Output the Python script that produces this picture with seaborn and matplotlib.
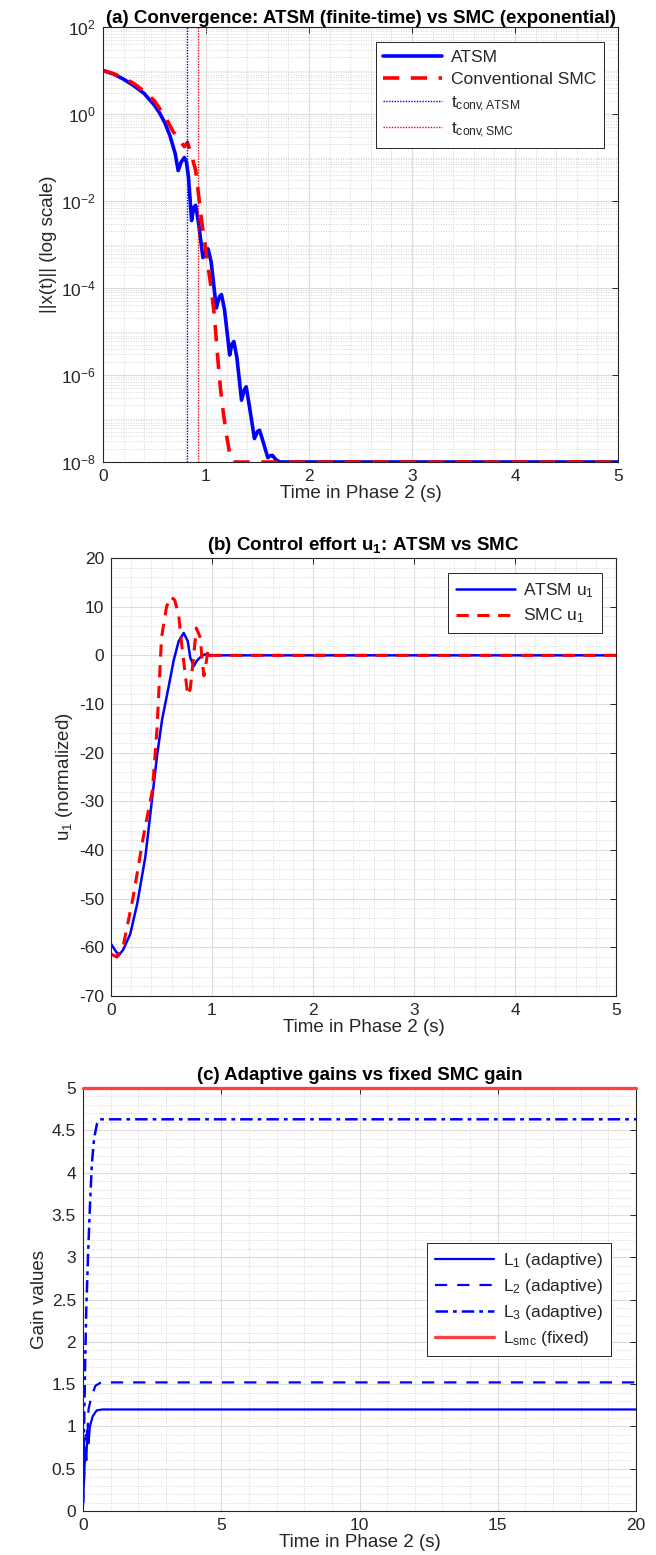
import numpy as np
import pandas as pd
import matplotlib
matplotlib.use("Agg")
import matplotlib.pyplot as plt
import seaborn as sns
from matplotlib.ticker import LogLocator, MultipleLocator, NullFormatter, FuncFormatter

# ---------------- data ----------------
# (a) state norm, log10 values
t_atsm = [0, 0.1, 0.2, 0.3, 0.4, 0.5, 0.55, 0.6, 0.65, 0.7, 0.73, 0.76, 0.79, 0.81, 0.83,
          0.86, 0.88, 0.9, 0.93, 0.97, 1.0, 1.02, 1.05, 1.1, 1.13, 1.15, 1.18, 1.23, 1.25,
          1.27, 1.3, 1.345, 1.37, 1.39, 1.42, 1.47, 1.5, 1.52, 1.55, 1.6, 1.63, 1.645, 1.68,
          1.72, 5.0]
atsm_norm_log10 = [1.0, 0.92, 0.8, 0.65, 0.47, 0.2, 0.02, -0.2, -0.5, -0.9, -1.3, -1.1, -1.0,
                   -1.1, -1.45, -2.45, -2.15, -2.1, -2.55, -3.3, -3.15, -3.1, -3.4, -4.46,
                   -4.2, -4.15, -4.5, -5.54, -5.3, -5.23, -5.6, -6.58, -6.35, -6.27, -6.7,
                   -7.46, -7.3, -7.27, -7.5, -7.9, -7.85, -7.85, -7.95, -8.0, -8.0]
t_smc = [0, 0.1, 0.2, 0.3, 0.4, 0.5, 0.6, 0.68, 0.74, 0.79, 0.82, 0.86, 0.9, 0.93, 0.96, 0.99,
         1.02, 1.05, 1.08, 1.11, 1.14, 1.17, 1.2, 1.23, 1.26, 5.0]
smc_norm_log10 = [1.0, 0.93, 0.83, 0.7, 0.52, 0.3, -0.05, -0.4, -0.6, -0.75, -0.65, -0.95, -1.3,
                  -1.9, -2.5, -3.0, -3.5, -4.0, -4.6, -5.5, -6.3, -6.9, -7.4, -7.8, -8.0, -8.0]
t_conv_atsm = 0.82
t_conv_smc = 0.92

# (b) control effort u1
t_u_atsm = [0, 0.076, 0.12, 0.19, 0.26, 0.34, 0.39, 0.455, 0.505, 0.57, 0.62, 0.67, 0.72,
            0.76, 0.785, 0.82, 0.85, 0.9, 0.93, 1.0, 5.0]
u_atsm = [-59.3, -61.7, -60.5, -57.3, -51.0, -41.4, -32.5, -20.8, -13.3, -6.5, -1.1, 2.9, 4.6,
          2.9, -0.5, -2.2, -1.1, -0.1, 0.2, 0.0, 0.0]
t_u_smc = [0, 0.06, 0.125, 0.22, 0.32, 0.41, 0.455, 0.5, 0.55, 0.59, 0.63, 0.67, 0.70, 0.735,
           0.76, 0.785, 0.82, 0.845, 0.885, 0.9, 0.92, 0.945, 0.96, 0.98, 1.0, 5.0]
u_smc = [-61.4, -62.0, -59.3, -49.6, -37.3, -27.7, -15.3, 3.6, 10.0, 12.0, 11.4, 8.3, 2.2, -3.9,
         -8.2, -6.9, 0.2, 5.6, 3.6, -0.5, -4.2, -1.1, 1.2, -0.1, 0.0, 0.0]

# (c) gains
t_L1 = [0, 0.05, 0.08, 0.12, 0.16, 0.2, 0.25, 0.35, 0.5, 0.7, 20]
L1 = [0.1, 0.45, 0.75, 0.6, 0.95, 0.8, 1.0, 1.12, 1.19, 1.2, 1.2]
t_L2 = [0, 0.05, 0.1, 0.15, 0.2, 0.3, 0.45, 0.65, 20]
L2 = [0.05, 0.5, 0.9, 0.8, 1.2, 1.35, 1.48, 1.52, 1.52]
t_L3 = [0, 0.04, 0.08, 0.12, 0.18, 0.25, 0.32, 0.4, 0.5, 0.6, 20]
L3 = [0.1, 1.0, 1.8, 2.4, 3.0, 3.6, 4.1, 4.4, 4.57, 4.63, 4.63]
t_Lsmc = [0, 20]
L_smc = [5.0, 5.0]

# ---------------- style ----------------
sns.set_theme(style="white")
plt.rcParams["font.family"] = ["Liberation Sans", "DejaVu Sans"]
plt.rcParams["mathtext.fontset"] = "custom"
plt.rcParams["mathtext.rm"] = "Liberation Sans"
plt.rcParams["mathtext.it"] = "Liberation Sans:italic"
plt.rcParams["mathtext.bf"] = "Liberation Sans:bold"
plt.rcParams["axes.unicode_minus"] = False

AX_C = "#262626"
TICK_FS = 12.5
LAB_FS = 13.5
TITLE_FS = 13.5
LEG_FS = 12.5
BLUE = "#0000ff"
RED = "#ff0000"
LSMC_C = "#ff4040"

fig = plt.figure(figsize=(6.56, 15.55), dpi=100)
W, H = 656, 1555
gfmt = FuncFormatter(lambda v, p: "%g" % v)


def add_ax(x0, x1, y0, y1):
    return fig.add_axes([x0 / W, 1 - y1 / H, (x1 - x0) / W, (y1 - y0) / H])


def style(ax):
    for s in ax.spines.values():
        s.set_color(AX_C)
        s.set_linewidth(0.8)
    ax.tick_params(which="major", direction="in", length=4, width=0.7, top=True, right=True,
                   colors=AX_C, labelsize=TICK_FS, pad=5)
    ax.tick_params(which="minor", direction="in", length=0, top=True, right=True)
    ax.grid(True, which="major", color="#dcdcdc", lw=0.8, ls="-")
    ax.grid(True, which="minor", color="#c8c8c8", lw=0.6, ls=(0, (1, 2)))
    ax.set_axisbelow(True)


def leg(ax, **kw):
    lg = ax.legend(fontsize=LEG_FS, frameon=True, fancybox=False, framealpha=1,
                   edgecolor=AX_C, handlelength=3.4, borderpad=0.45, labelspacing=0.4,
                   handletextpad=0.5, **kw)
    lg.get_frame().set_linewidth(0.7)
    return lg


# ---------------- (a) ----------------
ax = add_ax(103, 618, 27, 462)
ax.set_yscale("log")
dfa = pd.DataFrame({"t": t_atsm, "v": 10.0 ** np.array(atsm_norm_log10)})
dfs = pd.DataFrame({"t": t_smc, "v": 10.0 ** np.array(smc_norm_log10)})
sns.lineplot(data=dfa, x="t", y="v", ax=ax, color=BLUE, lw=2.6, label="ATSM",
             sort=False, estimator=None)
sns.lineplot(data=dfs, x="t", y="v", ax=ax, color=RED, lw=2.6, label="Conventional SMC",
             sort=False, estimator=None)
ax.lines[-1].set_dashes((4.5, 3.2))
ax.axvline(t_conv_atsm, color=BLUE, lw=1.0, ls=(0, (1, 1)),
           label=r"$\mathrm{t_{conv\!,ATSM}}$")
ax.axvline(t_conv_smc, color=RED, lw=1.0, ls=(0, (1, 1)),
           label=r"$\mathrm{t_{conv\!,SMC}}$")
ax.set_xlim(0, 5)
ax.set_ylim(1e-8, 1e2)
ax.set_yticks([1e-8, 1e-6, 1e-4, 1e-2, 1e0, 1e2])
ax.yaxis.set_minor_locator(LogLocator(base=10, subs=np.arange(1, 10), numticks=100))
ax.yaxis.set_minor_formatter(NullFormatter())
ax.xaxis.set_major_locator(MultipleLocator(1))
ax.xaxis.set_minor_locator(MultipleLocator(0.2))
ax.xaxis.set_major_formatter(gfmt)
style(ax)
ax.set_title("(a) Convergence: ATSM (finite-time) vs SMC (exponential)", fontsize=TITLE_FS,
             fontweight="bold", pad=3, color="black")
ax.set_xlabel("Time in Phase 2 (s)", fontsize=LAB_FS, labelpad=1, color=AX_C)
ax.set_ylabel("||x(t)|| (log scale)", fontsize=LAB_FS, labelpad=3, color=AX_C)
leg(ax, loc="upper right", bbox_to_anchor=(0.99, 0.985))

# ---------------- (b) ----------------
ax = add_ax(111, 616, 558, 996)
sns.lineplot(x=t_u_atsm, y=u_atsm, ax=ax, color=BLUE, lw=1.8, label=r"ATSM u$_1$",
             sort=False, estimator=None)
sns.lineplot(x=t_u_smc, y=u_smc, ax=ax, color=RED, lw=2.2, label=r"SMC u$_1$",
             sort=False, estimator=None)
ax.lines[-1].set_dashes((4.0, 2.8))
ax.set_xlim(0, 5)
ax.set_ylim(-70, 20)
ax.xaxis.set_major_locator(MultipleLocator(1))
ax.xaxis.set_minor_locator(MultipleLocator(0.2))
ax.yaxis.set_major_locator(MultipleLocator(10))
ax.yaxis.set_minor_locator(MultipleLocator(2))
ax.xaxis.set_major_formatter(gfmt)
ax.yaxis.set_major_formatter(gfmt)
style(ax)
ax.set_title(r"(b) Control effort u$_\mathbf{1}$: ATSM vs SMC", fontsize=TITLE_FS,
             fontweight="bold", pad=6, color="black")
ax.set_xlabel("Time in Phase 2 (s)", fontsize=LAB_FS, labelpad=1, color=AX_C)
ax.set_ylabel(r"u$_1$ (normalized)", fontsize=LAB_FS, labelpad=3, color=AX_C)
leg(ax, loc="upper right", bbox_to_anchor=(0.99, 0.985))

# ---------------- (c) ----------------
ax = add_ax(83, 636, 1088, 1511)
sns.lineplot(x=t_L1, y=L1, ax=ax, color=BLUE, lw=1.6, label=r"L$_1$ (adaptive)",
             sort=False, estimator=None)
sns.lineplot(x=t_L2, y=L2, ax=ax, color=BLUE, lw=1.6, label=r"L$_2$ (adaptive)",
             sort=False, estimator=None)
ax.lines[-1].set_dashes((5.5, 4.5))
sns.lineplot(x=t_L3, y=L3, ax=ax, color=BLUE, lw=1.8, label=r"L$_3$ (adaptive)",
             sort=False, estimator=None)
ax.lines[-1].set_dashes((5, 2, 1.5, 2))
sns.lineplot(x=t_Lsmc, y=L_smc, ax=ax, color=LSMC_C, lw=2.4, label=r"L$_{\mathrm{smc}}$ (fixed)",
             sort=False, estimator=None)
ax.lines[-1].set_clip_on(False)
ax.lines[-1].set_zorder(5)
ax.set_xlim(0, 20)
ax.set_ylim(0, 5)
ax.xaxis.set_major_locator(MultipleLocator(5))
ax.xaxis.set_minor_locator(MultipleLocator(1))
ax.yaxis.set_major_locator(MultipleLocator(0.5))
ax.yaxis.set_minor_locator(MultipleLocator(0.1))
ax.xaxis.set_major_formatter(gfmt)
ax.yaxis.set_major_formatter(gfmt)
style(ax)
ax.set_title("(c) Adaptive gains vs fixed SMC gain", fontsize=TITLE_FS,
             fontweight="bold", pad=6, color="black")
ax.set_xlabel("Time in Phase 2 (s)", fontsize=LAB_FS, labelpad=1, color=AX_C)
ax.set_ylabel("Gain values", fontsize=LAB_FS, labelpad=3, color=AX_C)
leg(ax, loc="center right", bbox_to_anchor=(0.97, 0.50))

fig.savefig("out.png", dpi=100)
